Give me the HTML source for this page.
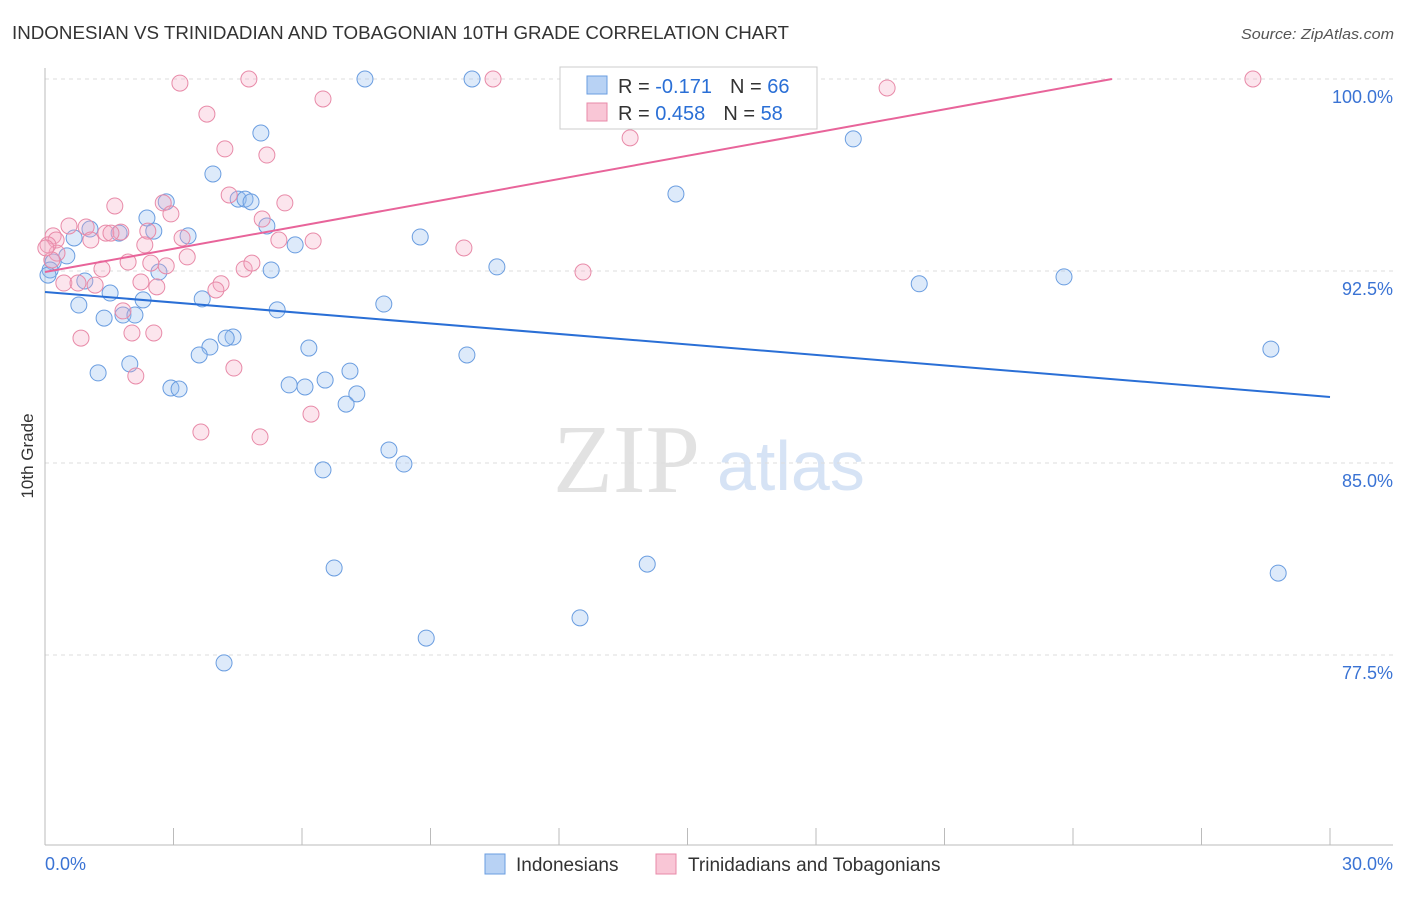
<!DOCTYPE html>
<html><head><meta charset="utf-8"><style>
body{margin:0;background:#fff;font-family:"Liberation Sans",sans-serif}
</style></head><body>
<svg id="chart" width="1406" height="892" viewBox="0 0 1406 892" xmlns="http://www.w3.org/2000/svg" font-family="Liberation Sans, sans-serif">
<text x="12" y="39" font-size="18" fill="#333" textLength="777" lengthAdjust="spacingAndGlyphs">INDONESIAN VS TRINIDADIAN AND TOBAGONIAN 10TH GRADE CORRELATION CHART</text>
<text x="1241" y="39" font-size="15" fill="#555" font-style="italic" textLength="153" lengthAdjust="spacingAndGlyphs">Source: ZipAtlas.com</text>
<g>
<text x="553" y="492" font-size="98" fill="#e2e2e2" font-family="Liberation Serif, serif">ZIP</text>
<text x="717" y="490" font-size="70" fill="#d6e3f5">atlas</text>
</g>
<g id="grid"></g>
<g id="axes"></g>
<g id="marks"></g>
<text transform="translate(33,456) rotate(-90)" font-size="17" fill="#333" text-anchor="middle">10th Grade</text>
<g>
<rect x="560" y="67" width="257" height="62" fill="#fff" stroke="#ccc"/>
<rect x="587" y="76" width="20" height="18" fill="#b8d2f4" stroke="#6a9de0"/>
<rect x="587" y="103" width="20" height="18" fill="#f9c6d6" stroke="#e88aa8"/>
<text x="618" y="93" font-size="20" fill="#333">R = <tspan fill="#2a6fd6">-0.171</tspan><tspan dx="18">N = </tspan><tspan fill="#2a6fd6">66</tspan></text>
<text x="618" y="120" font-size="20" fill="#333">R = <tspan fill="#2a6fd6">0.458</tspan><tspan dx="18">N = </tspan><tspan fill="#2a6fd6">58</tspan></text>
</g>
<g>
<rect x="485" y="854" width="20" height="20" fill="#b8d2f4" stroke="#6a9de0"/>
<text x="516" y="871" font-size="19" fill="#333">Indonesians</text>
<rect x="656" y="854" width="20" height="20" fill="#f9c6d6" stroke="#e88aa8"/>
<text x="688" y="871" font-size="19" fill="#333">Trinidadians and Tobagonians</text>
</g>
</svg>
<script>
const yTicks=[100,92.5,85,77.5];
const yTickLabels=["100.0%","92.5%","85.0%","77.5%"];
const xTickVals=[0,3,6,9,12,15,18,21,24,27,30];
const blueX=[7.47,9.97,12.87,5.04,18.87,3.92,14.73,2.83,4.51,4.67,4.81,2.38,5.18,2.54,1.73,1.05,3.34,0.68,8.76,5.84,0.51,0.19,0.12,0.07,5.28,10.55,23.79,20.41,0.93,1.52,2.29,3.67,0.79,7.91,5.42,1.38,1.82,2.10,4.39,4.23,3.85,6.16,3.60,9.85,28.62,1.98,1.24,7.12,6.54,5.70,6.07,7.28,2.94,3.13,7.03,8.03,8.38,6.49,14.06,6.75,28.79,12.49,8.90,4.18,2.66];
const blueY=[100,100,99.88,97.89,97.66,96.29,95.51,95.20,95.31,95.31,95.20,94.57,94.26,94.06,93.98,94.14,93.87,93.79,93.83,93.52,93.09,92.85,92.54,92.34,92.54,92.66,92.27,92.0,92.11,91.64,91.37,91.41,91.17,91.21,90.98,90.66,90.78,90.78,89.92,89.88,89.53,89.49,89.22,89.22,89.45,88.87,88.52,88.59,88.24,88.05,87.97,87.70,87.93,87.89,87.30,85.51,84.96,84.73,81.05,80.90,80.70,78.95,78.16,77.19,92.46];
const pinkX=[3.15,4.76,10.46,28.2,19.66,6.49,3.78,4.20,5.18,13.66,1.63,4.30,5.60,2.76,2.94,5.07,0.56,0.96,0.19,0.26,2.40,1.77,1.42,1.07,1.54,3.20,5.46,6.26,2.33,9.78,0.28,3.32,1.94,2.47,2.83,4.65,4.83,1.33,12.56,2.24,0.44,0.77,4.11,1.17,3.99,2.61,1.82,2.54,0.84,2.03,2.12,4.41,6.21,3.64,5.02,0.07,0.16,0.02];
const pinkY=[99.84,100,100,100,99.65,99.22,98.63,97.27,97.03,97.70,95.04,95.47,95.16,95.16,94.73,94.53,94.26,94.22,93.87,93.71,94.06,94.02,93.98,93.71,93.98,93.79,93.71,93.67,93.52,93.40,93.20,93.05,92.85,92.81,92.70,92.58,92.81,92.58,92.46,92.07,92.03,92.03,92.0,91.95,91.76,91.88,90.94,90.08,89.88,90.08,88.40,88.71,86.91,86.21,86.02,93.52,92.93,93.40];
const blueTrend=[91.68,87.58];
const pinkTrend=[92.46,0.3027];
const NS="http://www.w3.org/2000/svg";
const X=v=>45+v/30*1285;
const Y=v=>79+(100-v)/7.5*192;
function mk(tag,attrs,parent){const e=document.createElementNS(NS,tag);for(const k in attrs)e.setAttribute(k,attrs[k]);document.getElementById(parent).appendChild(e);return e;}
yTicks.forEach((t,i)=>{
 const l=mk('line',{x1:45,x2:1393,y1:Y(t),y2:Y(t),stroke:'#ddd','stroke-dasharray':'4,4'},'grid');
 
 
 const tx=mk('text',{x:1393,y:Y(t)+24,'font-size':18,fill:'#3a73d4','text-anchor':'end'},'axes');
 tx.textContent=yTickLabels[i];
 
 
});
const ax=mk('line',{x1:45,x2:1393,y1:845,y2:845,stroke:'#bbb'},'axes');


const ay=mk('line',{x1:45,x2:45,y1:68,y2:845,stroke:'#bbb'},'axes');


xTickVals.forEach(v=>{
 const t=mk('line',{x1:X(v),x2:X(v),y1:828,y2:845,stroke:'#bbb'},'axes');
 
 
});
const xl0=mk('text',{x:45,y:870,'font-size':18,fill:'#3a73d4'},'axes');xl0.textContent='0.0%';


const xl1=mk('text',{x:1393,y:870,'font-size':18,fill:'#3a73d4','text-anchor':'end'},'axes');xl1.textContent='30.0%';


blueX.forEach((v,i)=>{
 const c=mk('circle',{cx:X(v),cy:Y(blueY[i]),r:8,fill:'rgba(150,190,240,0.32)',stroke:'#6a9de0','stroke-width':1},'marks');
 
 
});
pinkX.forEach((v,i)=>{
 const c=mk('circle',{cx:X(v),cy:Y(pinkY[i]),r:8,fill:'rgba(245,170,195,0.3)',stroke:'#e88aa8','stroke-width':1},'marks');
 
 
});
const bl=mk('line',{x1:X(0),y1:Y(blueTrend[0]),x2:X(30),y2:Y(blueTrend[1]),stroke:'#2a6fd6','stroke-width':2},'marks');


const xe=(100-pinkTrend[0])/pinkTrend[1];
const pl=mk('line',{x1:X(0),y1:Y(pinkTrend[0]),x2:X(xe),y2:Y(100),stroke:'#e8649a','stroke-width':2},'marks');


</script>
</body></html>
